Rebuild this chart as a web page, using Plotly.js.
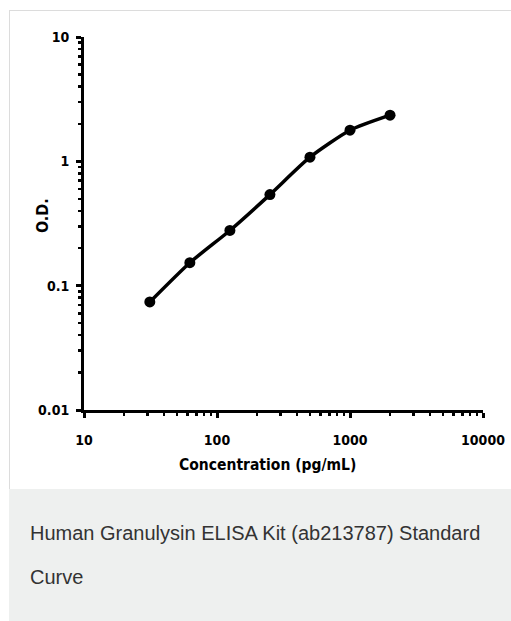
<!DOCTYPE html>
<html>
<head>
<meta charset="utf-8">
<script src="https://cdn.plot.ly/plotly-3.0.1.min.js"></script>
<style>
  html, body { margin: 0; padding: 0; background: #ffffff; width: 511px; height: 621px; overflow: hidden; }
  #frame { position: absolute; left: 9px; top: 10px; width: 510px; height: 478px; border: 1px solid #dcdcdc; border-right: none; background: #fff; }
  #chart { position: absolute; left: 0px; top: 0px; width: 502px; height: 478px; }
  #caption { position: absolute; left: 9px; top: 489px; width: 510px; height: 140px; background: #eef0ef; }
  #caption p { margin: 0; position: absolute; left: 21px; top: 22px; width: 470px; font-family: "Liberation Sans", Arial, sans-serif; font-size: 20px; color: #333; line-height: 44px; }
</style>
</head>
<body>
<div id="frame"><div id="chart"></div></div>
<div id="caption"><p>Human Granulysin ELISA Kit (ab213787) Standard Curve</p></div>
<script>
const concentration = [31.25, 62.5, 125, 250, 500, 1000, 2000];
const od = [0.074, 0.153, 0.278, 0.54, 1.08, 1.78, 2.35];
const xTickVals = [10, 100, 1000, 10000];
const xTickText = ["10", "100", "1000", "10000"];
const yTickVals = [0.01, 0.1, 1, 10];
const yTickText = ["0.01", "0.1", "1", "10"];

const fam = "DejaVu Sans Condensed, Roboto, sans-serif";
const tickFont = { family: fam, size: 14, color: "#000", weight: "bold" };

const trace = {
  x: concentration,
  y: od,
  type: "scatter",
  mode: "lines+markers",
  line: { color: "#000", width: 3.5, shape: "spline", smoothing: 0.6 },
  marker: { color: "#000", size: 11, symbol: "circle" },
  hoverinfo: "x+y"
};

const layout = {
  width: 502,
  height: 478,
  margin: { l: 74, r: 29, t: 26, b: 79 },
  paper_bgcolor: "#ffffff",
  plot_bgcolor: "#ffffff",
  showlegend: false,
  xaxis: {
    type: "log",
    range: [1, 4],
    tickvals: xTickVals,
    ticktext: xTickText,
    showgrid: false,
    zeroline: false,
    showline: true,
    linecolor: "#000",
    linewidth: 3,
    ticks: "outside",
    ticklen: 5,
    tickwidth: 3,
    tickcolor: "#000",
    ticklabelstandoff: 10,
    tickfont: tickFont,
    minor: { ticks: "outside", ticklen: 3, tickwidth: 2.5, tickcolor: "#000", dtick: "D1", showgrid: false }
  },
  yaxis: {
    type: "log",
    range: [-2, 1],
    tickvals: yTickVals,
    ticktext: yTickText,
    showgrid: false,
    zeroline: false,
    showline: true,
    linecolor: "#000",
    linewidth: 3,
    ticks: "outside",
    ticklen: 5,
    tickwidth: 3,
    tickcolor: "#000",
    ticklabelstandoff: 4,
    tickfont: tickFont,
    minor: { ticks: "outside", ticklen: 3, tickwidth: 2.5, tickcolor: "#000", dtick: "D1", showgrid: false }
  },
  annotations: [
    {
      text: "Concentration (pg/mL)",
      xref: "paper", yref: "paper",
      x: 0.46, y: 0, yshift: -55,
      xanchor: "center", yanchor: "middle",
      showarrow: false,
      font: { family: fam, size: 15.5, color: "#000", weight: "bold" }
    },
    {
      text: "O.D.",
      xref: "paper", yref: "paper",
      x: 0, xshift: -42, y: 0.52,
      xanchor: "center", yanchor: "middle",
      textangle: -90,
      showarrow: false,
      font: { family: fam, size: 16, color: "#000", weight: "bold" }
    }
  ]
};

Plotly.newPlot("chart", [trace], layout, { displayModeBar: false, staticPlot: true });
</script>
</body>
</html>
